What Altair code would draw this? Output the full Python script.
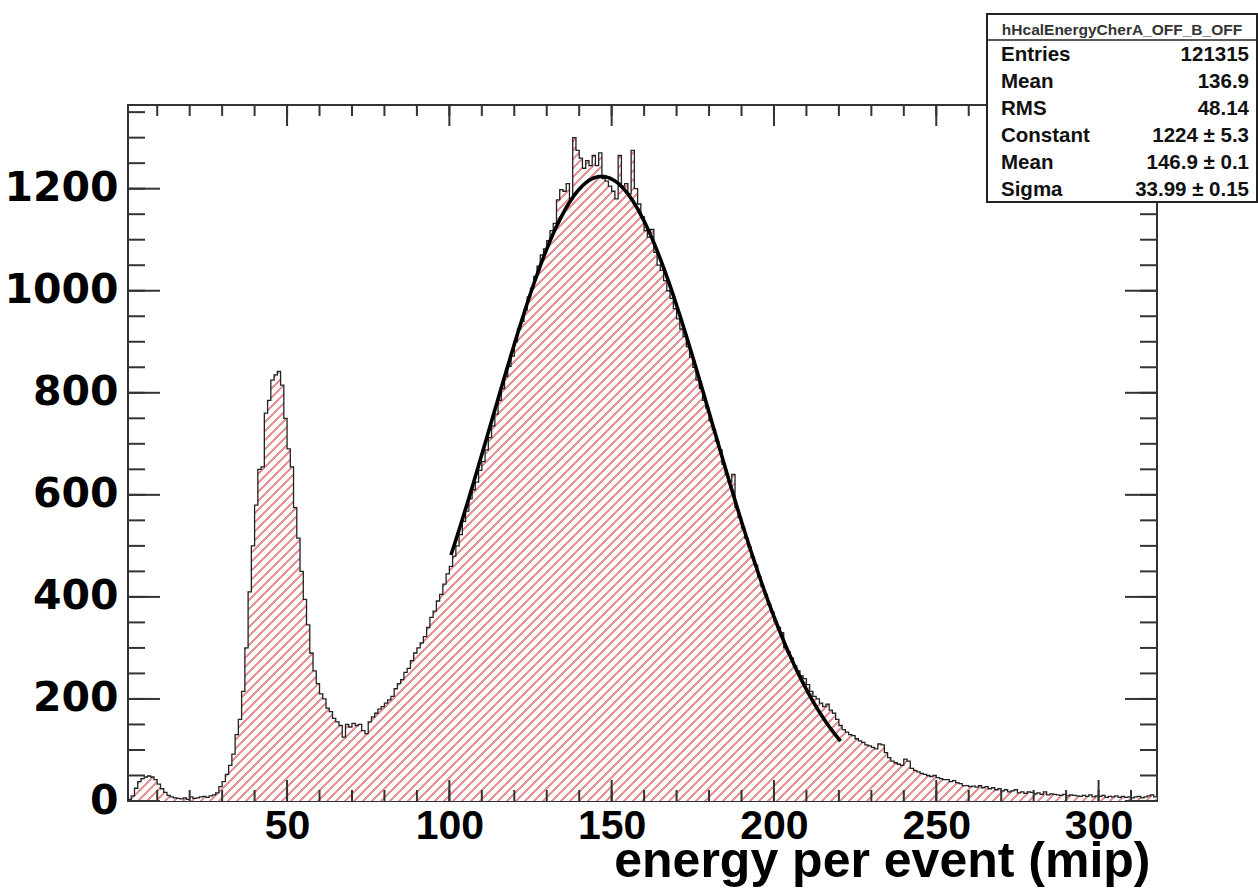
import altair as alt
import pandas as pd
import numpy as np

# ---------------- data ----------------
# histogram: bins of width 1 mip starting at 1 mip
bin_start = 1
bin_width = 1
counts = [
    3, 10, 25, 38, 44, 47, 49, 47, 42, 33,            # 1-10
    24, 17, 11, 8, 6, 5, 4, 6, 3, 8,                  # 11-20
    5, 6, 8, 9, 7, 10, 12, 16, 28, 38,                # 21-30
    52, 70, 92, 130, 160, 215, 300, 410, 500, 580,    # 31-40
    650, 655, 760, 785, 825, 835, 842, 815, 750, 690, # 41-50
    655, 575, 515, 450, 395, 345, 290, 255, 230, 210, # 51-60
    200, 182, 175, 162, 155, 148, 125, 150, 145, 152, # 61-70
    148, 150, 138, 132, 155, 165, 172, 180, 185, 192, # 71-80
    198, 205, 220, 230, 238, 252, 260, 275, 290, 300, # 81-90
    310, 322, 340, 360, 372, 392, 405, 425, 445, 460, # 91-100
    480, 500, 522, 548, 568, 592, 610, 625, 648, 665, # 101-110
    688, 712, 735, 758, 785, 808, 832, 852, 872, 900, # 111-120
    925, 940, 962, 988, 1005, 1028, 1048, 1070, 1082, 1098,  # 121-130
    1118, 1132, 1178, 1198, 1195, 1210, 1180, 1300, 1275, 1260,  # 131-140
    1240, 1255, 1245, 1265, 1245, 1270, 1220, 1215, 1205, 1195,  # 141-150
    1180, 1265, 1205, 1210, 1190, 1275, 1200, 1170, 1145, 1118,  # 151-160
    1105, 1120, 1075, 1050, 1040, 1020, 1000, 985, 965, 945,     # 161-170
    925, 910, 890, 870, 850, 825, 808, 785, 770, 745,  # 171-180
    728, 705, 688, 660, 640, 625, 640, 575, 555, 535,  # 181-190
    515, 498, 478, 462, 440, 420, 405, 385, 370, 352,  # 191-200
    340, 330, 300, 292, 280, 265, 255, 245, 240, 228,  # 201-210
    215, 205, 200, 192, 185, 190, 178, 172, 160, 148,  # 211-220
    140, 135, 130, 128, 122, 118, 115, 110, 108, 105,  # 221-230
    102, 112, 110, 95, 85, 78, 75, 72, 70, 82,         # 231-240
    78, 64, 60, 57, 54, 52, 50, 48, 50, 46,            # 241-250
    44, 42, 42, 38, 40, 36, 34, 30, 30, 28,            # 251-260
    29, 27, 30, 26, 28, 24, 26, 22, 24, 20,            # 261-270
    22, 18, 20, 22, 16, 18, 15, 18, 17, 14,            # 271-280
    16, 13, 18, 12, 14, 13, 12, 11, 13, 10,            # 281-290
    12, 11, 10, 9, 11, 9, 12, 8, 10, 9,                # 291-300
    11, 7, 9, 8, 10, 7, 9, 7, 8, 6,                    # 301-310
    8, 9, 6, 8, 10, 12, 8,                             # 311-317
]

# gaussian fit parameters (from the stats box) and fit range
fit_constant = 1224
fit_mean = 146.9
fit_sigma = 33.99
fit_range = [100.5, 220.5]

x_domain = [1, 318]
y_domain = [0, 1364]
x_major = [50, 100, 150, 200, 250, 300]
x_minor = list(range(10, 320, 10))
y_major = [0, 200, 400, 600, 800, 1000, 1200]
y_minor = list(range(0, 1400, 50))

stat_title = "hHcalEnergyCherA_OFF_B_OFF"
stat_names = ["Entries", "Mean", "RMS", "Constant", "Mean", "Sigma"]
stat_values = ["121315", "136.9", "48.14", "1224 ± 5.3", "146.9 ± 0.1", "33.99 ± 0.15"]

# ---------------- tables ----------------
edges = [bin_start + i * bin_width for i in range(len(counts) + 1)]
hist = pd.DataFrame({"energy": edges, "entries": counts + [counts[-1]]})

fx = np.linspace(fit_range[0], fit_range[1], 241)
fit = pd.DataFrame({
    "energy": fx,
    "entries": fit_constant * np.exp(-0.5 * ((fx - fit_mean) / fit_sigma) ** 2),
})

W, H = 1029, 696
FONT = "Liberation Sans"

# hatch pattern made of a striped linear gradient (45 degree lines)
bbox_h = max(counts) / y_domain[1] * H
r = bbox_h / W
a = (1 + r) / (1 + r * r)
spacing = 9.0
period = spacing / (W + bbox_h)
n = int(1 / period) + 1
stops = []
white, red = "#ffffff", "#e79494"
for i in range(n):
    t0 = i * period
    t1 = min(1.0, t0 + 0.68 * period)
    t2 = min(1.0, t0 + period)
    t0 = min(1.0, t0)
    stops += [
        alt.GradientStop(color=white, offset=round(t0, 6)),
        alt.GradientStop(color=white, offset=round(t1, 6)),
        alt.GradientStop(color=red, offset=round(t1, 6)),
        alt.GradientStop(color=red, offset=round(t2, 6)),
    ]
hatch = alt.LinearGradient(gradient="linear", stops=stops, x1=0, y1=0, x2=a, y2=a * r)

xs = alt.Scale(domain=x_domain, nice=False, zero=False)
ys = alt.Scale(domain=y_domain, nice=False, zero=False)

x_axis = alt.Axis(values=x_major, format="d", ticks=False, domain=False, grid=False,
                  labelFont=FONT, labelFontWeight="bold", labelFontSize=41,
                  labelColor="#000", labelPadding=5, labelFlush=False,
                  title="energy per event (mip)", titleFont=FONT,
                  titleFontWeight="bold", titleFontSize=50, titleColor="#000",
                  titleAlign="right", titleAnchor="end", titleX=1022, titleY=75,
                  titleBaseline="alphabetic")
y_axis = alt.Axis(values=y_major, format="d", ticks=False, domain=False, grid=False,
                  labelFont="DejaVu Sans", labelFontWeight="bold", labelFontSize=41,
                  labelColor="#000", labelPadding=10, title=None)

X = alt.X("energy:Q", scale=xs, axis=x_axis)
Y = alt.Y("entries:Q", scale=ys, axis=y_axis)

area = alt.Chart(hist).mark_area(interpolate="step-after", fill=hatch, strokeWidth=0).encode(x=X, y=Y)
outline = alt.Chart(hist).mark_line(interpolate="step-after", color="#222", strokeWidth=1.3).encode(x=X, y=Y)
fitline = alt.Chart(fit).mark_line(color="#000", strokeWidth=3.6).encode(x=X, y=Y)

tick_col = "#333"
xmin_df = pd.DataFrame({"energy": x_minor})
xmaj_df = pd.DataFrame({"energy": x_major})
ymin_df = pd.DataFrame({"entries": y_minor})
ymaj_df = pd.DataFrame({"entries": y_major})


def xticks(df, length):
    bot = alt.Chart(df).mark_rule(color=tick_col, strokeWidth=2).encode(
        x=X, y=alt.value(H), y2=alt.value(H - length))
    top = alt.Chart(df).mark_rule(color=tick_col, strokeWidth=2).encode(
        x=X, y=alt.value(0), y2=alt.value(length))
    return bot + top


def yticks(df, length):
    left = alt.Chart(df).mark_rule(color=tick_col, strokeWidth=2).encode(
        y=Y, x=alt.value(0), x2=alt.value(length))
    right = alt.Chart(df).mark_rule(color=tick_col, strokeWidth=2).encode(
        y=Y, x=alt.value(W), x2=alt.value(W - length))
    return left + right


ticks = xticks(xmin_df, 11) + xticks(xmaj_df, 21) + yticks(ymin_df, 17) + yticks(ymaj_df, 32)

# stats box (placed in pixels relative to the plot origin)
box_l, box_r, box_t, box_b = 859, 1129, -91, 97
one = pd.DataFrame({"k": [0]})
box = alt.Chart(one).mark_rect(fill="white", stroke="#222", strokeWidth=2).encode(
    x=alt.value(box_l), x2=alt.value(box_r), y=alt.value(box_t), y2=alt.value(box_b))
sep = alt.Chart(one).mark_rule(color="#222", strokeWidth=1.5).encode(
    x=alt.value(box_l), x2=alt.value(box_r), y=alt.value(-65))
title_txt = alt.Chart(pd.DataFrame({"t": [stat_title]})).mark_text(
    font=FONT, fontSize=15.5, fontWeight="bold", color="#333", align="center", baseline="middle"
).encode(text="t:N", x=alt.value((box_l + box_r) / 2), y=alt.value(-75))

stats = pd.DataFrame({
    "name": stat_names,
    "val": stat_values,
    "py": [-50 + 27 * i for i in range(len(stat_names))],
})
names_txt = alt.Chart(stats).mark_text(
    font=FONT, fontSize=20.5, fontWeight="bold", color="#111", align="left", baseline="middle"
).encode(text="name:N", x=alt.value(873), y=alt.Y("py:Q", scale=None, axis=None))
vals_txt = alt.Chart(stats).mark_text(
    font=FONT, fontSize=20.5, fontWeight="bold", color="#111", align="right", baseline="middle"
).encode(text="val:N", x=alt.value(1121), y=alt.Y("py:Q", scale=None, axis=None))

chart = alt.layer(
    area, outline, fitline, ticks, box, sep, title_txt, names_txt, vals_txt
).properties(
    width=W, height=H,
    padding={"left": 128, "top": 105, "right": 101, "bottom": 87},
    autosize=alt.AutoSizeParams(type="none"),
    background="white",
).configure_view(stroke="#333", strokeWidth=2)

chart.save("out.html", embed_options={"renderer": "svg", "actions": False})
